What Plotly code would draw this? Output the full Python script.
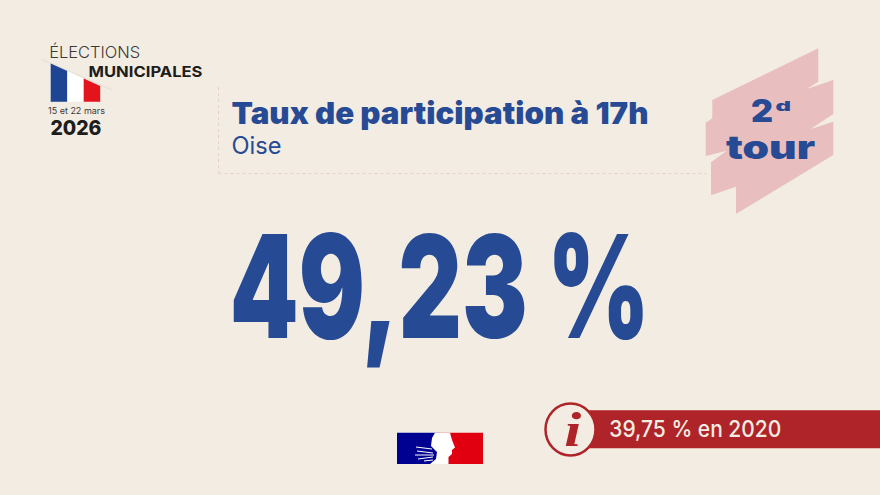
import json
import plotly.graph_objects as go

# texts and values
title = "Taux de participation à 17h"
department = "Oise"
turnout_2026 = "49,23 %"
turnout_2020 = "39,75 % en 2020"
round_number = "2"
round_suffix = "d"
round_word = "tour"
logo_top = "ÉLECTIONS"
logo_middle = "MUNICIPALES"
logo_dates = "15 et 22 mars"
logo_year = "2026"
info_glyph = "i"

BG = "#F3ECE3"
BLUE = "#264A94"
RED = "#AE2428"
PINK = "#E8BEBE"
DARK = "#1D1D1B"

# width in px each text takes in the picture, the fonts here are not the same
text_widths = {
    logo_top: 91, logo_middle: 114, logo_dates: 57, logo_year: 51,
    title: 417, department: 50, turnout_2026: 420, turnout_2020: 172,
    round_number: 22, round_suffix: 15.5, round_word: 89, info_glyph: 17,
}


def poly(points, color):
    path = "M " + " L ".join(f"{x},{y}" for x, y in points) + " Z"
    return dict(type="path", path=path, fillcolor=color, line_width=0)


def stroke(x0, y0, x1, y1):
    return dict(type="line", x0=x0, y0=y0, x1=x1, y1=y1, line=dict(color="#FFFFFF", width=1))


def label(x, y, text, size, color, family="Inter", weight=400):
    return dict(x=x, y=y, text=text, showarrow=False, xanchor="center", yanchor="middle",
                font=dict(family=family, size=size, color=color, weight=weight))


shapes = [
    # ribbon behind "2d tour"
    poly([(818.3, 48.3), (818.3, 81.7), (806.7, 89), (833.3, 80), (833.3, 114), (810.7, 129),
          (833.3, 121.7), (833.3, 155), (736, 214), (736, 186.7), (711, 195.3), (711, 162.3),
          (726.7, 150.7), (705.7, 156), (705.7, 122.7), (712.3, 118.3), (712.3, 100)], PINK),
    # dotted frame around the title
    dict(type="line", x0=218.5, x1=218.5, y0=87, y1=173.5, line=dict(color="#E9CFCA", width=1, dash="dot")),
    dict(type="line", x0=218.5, x1=706, y0=173.5, y1=173.5, line=dict(color="#E9CFCA", width=1, dash="dot")),
    # flag of the elections logo
    dict(type="line", x0=41, x1=112, y0=59, y1=90, line=dict(color="#E9E2D9", width=1.5)),
    poly([(50.7, 63.5), (67.3, 71), (67.3, 101.7), (50.7, 101.7)], "#1E4593"),
    poly([(67.3, 71), (83.7, 78.5), (83.7, 101.7), (67.3, 101.7)], "#FFFFFF"),
    poly([(83.7, 78.5), (100.2, 86), (100.2, 101.7), (83.7, 101.7)], "#E3141C"),
    # previous turnout banner
    dict(type="rect", x0=585, x1=880, y0=410.3, y1=448.3, fillcolor=RED, line_width=0),
    dict(type="circle", x0=545.5, x1=595.5, y0=403.5, y1=455.5, fillcolor=BG, line=dict(color=RED, width=2.5)),
    # Republique francaise logo
    dict(type="rect", x0=397, x1=440, y0=432.7, y1=464, fillcolor="#000091", line_width=0),
    dict(type="rect", x0=440, x1=483, y0=432.7, y1=464, fillcolor="#E1000F", line_width=0),
    poly([(435, 432.7), (450, 432.7), (452, 440), (455, 447.5), (452, 450), (452, 454), (448.5, 457),
          (448.5, 464), (430, 464), (436, 459), (437, 452), (431, 446), (432, 438)], "#FFFFFF"),
    stroke(416, 447, 432, 449), stroke(417, 451, 433, 453), stroke(415, 455, 434, 455),
    stroke(418, 459, 433, 457), stroke(424, 461, 433, 460),
]

annotations = [
    label(94.5, 52, logo_top, 16.5, "#3A3A38", weight=300),
    label(145, 71, logo_middle, 15, DARK, weight=700),
    label(76.5, 110, logo_dates, 9, "#3A3A38"),
    label(76.3, 127, logo_year, 20.5, DARK, weight=800),
    label(439.5, 113, title, 30, BLUE, weight=900),
    label(256, 145, department, 24, BLUE),
    label(439.5, 285, turnout_2026, 143, BLUE, weight=900),
    label(762, 110.5, round_number, 31, BLUE, weight=900),
    label(783, 105.5, round_suffix, 13, BLUE, weight=900),
    label(770.5, 147.5, round_word, 32, BLUE, weight=900),
    label(572.7, 429, info_glyph, 48, RED, family="Liberation Serif", weight=700),
    label(695.5, 429.3, turnout_2020, 23, BG, weight=500),
]
# the info glyph is italic
annotations[10]["font"]["style"] = "italic"

fig = go.Figure()
fig.update_layout(
    width=880, height=495, margin=dict(l=0, r=0, t=0, b=0),
    paper_bgcolor=BG, plot_bgcolor=BG, showlegend=False,
    xaxis=dict(range=[0, 880], visible=False, fixedrange=True),
    yaxis=dict(range=[495, 0], visible=False, fixedrange=True),
    shapes=shapes, annotations=annotations,
)

# no page margin, and squeeze or stretch each text to the width it has in the picture
post_script = """
document.body.style.margin = '0';
var widths = %s;
document.querySelectorAll('.annotation-text').forEach(function (t) {
    var w = widths[t.textContent];
    if (w) {
        t.setAttribute('textLength', w);
        t.setAttribute('lengthAdjust', 'spacingAndGlyphs');
    }
});
""" % json.dumps(text_widths, ensure_ascii=False)

fig.write_html("out.html", config=dict(displayModeBar=False), post_script=post_script)
